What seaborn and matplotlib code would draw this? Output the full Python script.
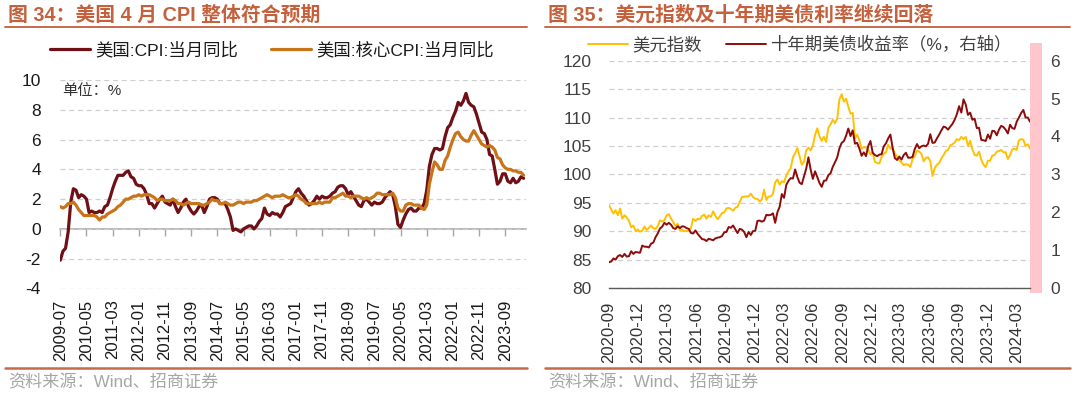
import numpy as np
import pandas as pd
import seaborn as sns
import matplotlib.pyplot as plt
import matplotlib.dates as mdates
from matplotlib.lines import Line2D

# ---- 图34: 美国CPI / 核心CPI 当月同比 (%), 月度 2009-07 ~ 2024-04
cpi_start = '2009-07-01'
cpi_yoy = [
    -2.1, -1.5, -1.3, -0.2, 1.8, 2.7,
    2.6, 2.1, 2.3, 2.2, 2.0, 1.1, 1.2, 1.1, 1.1, 1.2, 1.1, 1.5,
    1.6, 2.1, 2.7, 3.2, 3.6, 3.6, 3.6, 3.8, 3.9, 3.5, 3.4, 3.0,
    2.9, 2.9, 2.7, 2.3, 1.7, 1.7, 1.4, 1.7, 2.0, 2.2, 1.8, 1.7,
    1.6, 2.0, 1.5, 1.1, 1.4, 1.8, 2.0, 1.5, 1.2, 1.0, 1.2, 1.5,
    1.6, 1.1, 1.5, 2.0, 2.1, 2.1, 2.0, 1.7, 1.7, 1.7, 1.3, 0.8,
    -0.1, 0.0, -0.1, -0.2, 0.0, 0.1, 0.2, 0.2, 0.0, 0.2, 0.5, 0.7,
    1.4, 1.0, 0.9, 1.1, 1.0, 1.0, 0.8, 1.1, 1.5, 1.6, 1.7, 2.1,
    2.5, 2.7, 2.4, 2.2, 1.9, 1.6, 1.7, 1.9, 2.2, 2.0, 2.2, 2.1,
    2.1, 2.2, 2.4, 2.5, 2.8, 2.9, 2.9, 2.7, 2.3, 2.5, 2.2, 1.9,
    1.6, 1.5, 1.9, 2.0, 1.8, 1.6, 1.8, 1.7, 1.7, 1.8, 2.1, 2.3,
    2.5, 2.3, 1.5, 0.3, 0.1, 0.6, 1.0, 1.3, 1.4, 1.2, 1.2, 1.4,
    1.4, 1.7, 2.6, 4.2, 5.0, 5.4, 5.4, 5.3, 5.4, 6.2, 6.8, 7.0,
    7.5, 7.9, 8.5, 8.3, 8.6, 9.1, 8.5, 8.3, 8.2, 7.7, 7.1, 6.5,
    6.4, 6.0, 5.0, 4.9, 4.0, 3.0, 3.2, 3.7, 3.7, 3.2, 3.1, 3.4,
    3.1, 3.2, 3.5, 3.4,
]
core_cpi_yoy = [
    1.5, 1.4, 1.5, 1.7, 1.7, 1.8,
    1.6, 1.3, 1.1, 0.9, 0.9, 0.9, 0.9, 0.9, 0.8, 0.6, 0.8, 0.8,
    1.0, 1.1, 1.2, 1.3, 1.5, 1.6, 1.8, 2.0, 2.0, 2.1, 2.2, 2.2,
    2.3, 2.2, 2.3, 2.3, 2.3, 2.2, 2.1, 1.9, 2.0, 2.0, 1.9, 1.9,
    1.9, 2.0, 1.9, 1.7, 1.7, 1.6, 1.7, 1.8, 1.7, 1.7, 1.7, 1.7,
    1.6, 1.6, 1.7, 1.8, 2.0, 1.9, 1.9, 1.7, 1.7, 1.8, 1.7, 1.6,
    1.6, 1.7, 1.8, 1.8, 1.7, 1.8, 1.8, 1.8, 1.9, 1.9, 2.0, 2.1,
    2.2, 2.3, 2.2, 2.1, 2.2, 2.2, 2.2, 2.3, 2.2, 2.1, 2.1, 2.2,
    2.3, 2.2, 2.0, 1.9, 1.7, 1.7, 1.7, 1.7, 1.7, 1.8, 1.7, 1.8,
    1.8, 1.8, 2.1, 2.1, 2.2, 2.3, 2.4, 2.2, 2.2, 2.1, 2.2, 2.2,
    2.2, 2.1, 2.0, 2.1, 2.0, 2.1, 2.2, 2.4, 2.4, 2.3, 2.3, 2.3,
    2.3, 2.4, 2.1, 1.4, 1.2, 1.2, 1.6, 1.7, 1.7, 1.6, 1.6, 1.6,
    1.4, 1.3, 1.6, 3.0, 3.8, 4.5, 4.3, 4.0, 4.0, 4.6, 4.9, 5.5,
    6.0, 6.4, 6.5, 6.2, 6.0, 5.9, 5.9, 6.3, 6.6, 6.3, 6.0, 5.7,
    5.6, 5.5, 5.6, 5.5, 5.3, 4.8, 4.7, 4.3, 4.1, 4.0, 4.0, 3.9,
    3.9, 3.8, 3.8, 3.6,
]

# ---- 图35: 美元指数 / 十年期美债收益率 (%), 周度读数
fx_start, fx_end = '2020-09-01', '2024-04-11'
dxy = [
    94.6, 93.8, 93.1, 93.7, 92.8, 94.0, 92.2, 92.8, 92.4, 91.8, 90.7, 91.0, 90.0, 90.3,
    89.9, 90.1, 90.8, 90.2, 90.6, 91.0, 90.5, 90.4, 90.9, 91.9, 91.7, 91.9, 92.8, 93.0,
    92.2, 91.6, 90.9, 91.3, 90.2, 90.3, 90.0, 90.0, 90.1, 90.6, 92.2, 91.8, 92.2, 92.1,
    92.7, 92.9, 92.2, 92.8, 92.5, 93.5, 92.7, 92.1, 92.6, 93.2, 93.3, 94.0, 94.1, 93.9,
    93.6, 94.1, 94.3, 95.1, 96.0, 96.1, 96.1, 96.1, 96.6, 96.0, 95.7,
    95.7, 95.2, 95.6, 97.3, 95.5, 96.1, 96.1, 96.6, 98.6, 99.1, 98.2, 98.8, 98.6, 99.8,
    100.5, 101.1, 103.0, 103.7, 104.6, 103.2, 101.7, 102.2, 104.2, 104.7, 104.2, 105.1,
    106.9, 108.1, 106.7, 105.9, 106.6, 105.7, 108.2, 108.8, 109.6, 109.0, 109.8, 113.2,
    114.1, 112.8, 113.3, 111.9, 110.7, 110.8, 106.3, 107.0, 106.0, 104.5, 104.8, 104.7,
    104.3, 103.5,
    103.9, 102.2, 102.0, 101.9, 103.0, 103.6, 103.9, 105.2, 104.5, 104.6, 103.7, 103.1,
    102.5, 102.1, 101.6, 101.8, 101.7, 101.3, 102.7, 103.2, 104.2, 104.0, 103.6, 102.3,
    102.9, 103.0, 102.3, 99.7, 101.1, 101.7, 102.0, 102.8, 103.4, 104.1, 104.3, 105.1,
    105.3, 105.6, 106.2, 106.0, 106.6, 106.2, 106.6, 105.0, 105.9, 104.4, 103.4, 103.3,
    104.0, 102.6, 101.7, 101.3,
    102.4, 102.4, 103.3, 103.4, 104.0, 104.1, 104.3, 103.9, 103.9, 102.7, 103.4, 104.4,
    104.5, 104.3, 106.0, 106.2, 106.1, 105.0, 105.3, 104.5,
]
ust10y = [
    0.68, 0.70, 0.78, 0.75, 0.84, 0.87, 0.82, 0.90, 0.83, 0.84, 0.97, 0.90, 0.95, 0.94,
    0.93, 1.12, 1.09, 1.09, 1.07, 1.17, 1.20, 1.34, 1.44, 1.57, 1.62, 1.72, 1.67, 1.72,
    1.67, 1.58, 1.56, 1.63, 1.58, 1.63, 1.62, 1.58, 1.56, 1.45, 1.44, 1.52, 1.43, 1.36,
    1.29, 1.28, 1.24, 1.30, 1.28, 1.26, 1.31, 1.33, 1.34, 1.37, 1.47, 1.48, 1.61, 1.59,
    1.65, 1.55, 1.45, 1.56, 1.54, 1.48, 1.34, 1.48, 1.40, 1.50, 1.51,
    1.77, 1.78, 1.75, 1.78, 1.93, 1.92, 1.93, 1.97, 1.72, 2.00, 2.14, 2.48, 2.38, 2.72,
    2.83, 2.90, 2.89, 3.13, 2.93, 2.78, 2.74, 2.94, 3.15, 3.45, 3.13, 2.88, 3.08, 2.93,
    2.77, 2.67, 2.83, 2.84, 2.98, 3.03, 3.20, 3.32, 3.45, 3.69, 3.83, 3.88, 4.02, 4.21,
    4.01, 4.16, 3.81, 3.83, 3.68, 3.49, 3.58, 3.48, 3.75, 3.88,
    3.57, 3.51, 3.48, 3.52, 3.53, 3.74, 3.82, 3.95, 4.05, 3.70, 3.43, 3.38, 3.47, 3.39,
    3.51, 3.57, 3.44, 3.44, 3.46, 3.67, 3.80, 3.69, 3.74, 3.76, 3.74, 3.81, 4.06, 3.83,
    3.84, 3.95, 4.05, 4.16, 4.26, 4.24, 4.18, 4.26, 4.33, 4.44, 4.59, 4.80, 4.63, 4.98,
    4.84, 4.57, 4.63, 4.44, 4.47, 4.22, 4.23, 3.91, 3.90, 3.88,
    4.05, 3.94, 4.15, 4.14, 4.03, 4.18, 4.28, 4.25, 4.18, 4.08, 4.31, 4.22, 4.20, 4.39,
    4.50, 4.62, 4.70, 4.50, 4.50, 4.39,
]

rust = '#C8694A'
grid_kw = dict(color='#CFCFCF', linestyle=(0, (4, 3)), linewidth=0.9)

sns.set_style('white')
plt.rcParams['font.family'] = ['Liberation Sans', 'Noto Sans CJK SC']
plt.rcParams['axes.unicode_minus'] = False

W, H = 1080, 399
fig = plt.figure(figsize=(W / 100, H / 100), dpi=100)
ax1 = fig.add_axes([60.3 / W, 1 - 288.5 / H, 465.9 / W, 208.5 / H])
ax2 = fig.add_axes([609 / W, 1 - 288 / H, 421 / W, 227.3 / H])

# ---------------- left chart
months = pd.date_range(cpi_start, periods=len(cpi_yoy), freq='MS')
df1 = pd.DataFrame({'i': np.arange(len(months)), 'cpi': cpi_yoy, 'core': core_cpi_yoy})
sns.lineplot(data=df1, x='i', y='cpi', ax=ax1, color='#6E1015', lw=2.3,
             label='美国:CPI:当月同比', zorder=3)
sns.lineplot(data=df1, x='i', y='core', ax=ax1, color='#C8741A', lw=2.3,
             label='美国:核心CPI:当月同比', zorder=4)

ax1.set_xlim(0, len(months))
ax1.set_ylim(-4, 10)
ax1.set_yticks(range(-4, 11, 2))
ax1.yaxis.grid(True, **grid_kw)
ax1.set_axisbelow(True)
for s in ax1.spines.values():
    s.set_visible(False)
tick_idx = np.arange(0, len(months), 10)
ax1.set_xticks(tick_idx, months[tick_idx].strftime('%Y-%m'))
ax1.tick_params(axis='x', length=0, pad=8, labelsize=12, rotation=90, labelcolor='#1a1a1a')
ax1.tick_params(axis='y', length=0, pad=14, labelsize=12.5, labelcolor='#1a1a1a')
ax1.set_xlabel('')
ax1.set_ylabel('')

# zero line with tick marks
zero_ax = ax1.secondary_xaxis(0, transform=ax1.transData)
zero_ax.set_xticks(tick_idx)
zero_ax.tick_params(length=5, width=1, color='#A6A6A6', labelbottom=False)
zero_ax.spines['bottom'].set_color('#A6A6A6')
zero_ax.spines['bottom'].set_linewidth(1.1)

ax1.text(0.004, 0.947, '单位：%', transform=ax1.transAxes, fontsize=11,
         color='#333333', ha='left', va='center')

ax1.legend(loc='center left', bbox_to_anchor=(50 / W, 1 - 50 / H), bbox_transform=fig.transFigure,
           ncol=2, frameon=False, fontsize=12.5, handlelength=2.3, handletextpad=0.3,
           columnspacing=1.9, borderpad=0, borderaxespad=0, labelcolor='#1a1a1a')

# ---------------- right chart
fx_dates = pd.date_range(fx_start, fx_end, periods=len(dxy))
df2 = pd.DataFrame({'date': fx_dates, 'dxy': dxy, 'ust': ust10y})
sns.lineplot(data=df2, x='date', y='dxy', ax=ax2, color='#FFC000', lw=1.4, label='美元指数')
ax2r = ax2.twinx()
sns.lineplot(data=df2, x='date', y='ust', ax=ax2r, color='#8E0B0B', lw=1.4,
             label='十年期美债收益率（%，右轴）')

ax2.set_xlim(fx_dates[0], fx_dates[-1])
ax2.set_ylim(80, 120)
ax2.set_yticks(range(80, 121, 5))
ax2r.set_ylim(0, 6)
ax2r.set_yticks(range(0, 7))
ax2.yaxis.grid(True, **grid_kw)
ax2.set_axisbelow(True)
for s in list(ax2.spines.values()) + list(ax2r.spines.values()):
    s.set_visible(False)
ax2.spines['bottom'].set_visible(True)
ax2.spines['bottom'].set_color('#595959')
ax2.spines['bottom'].set_linewidth(1)

ax2.xaxis.set_major_locator(mdates.MonthLocator(bymonth=[3, 6, 9, 12]))
ax2.xaxis.set_major_formatter(mdates.DateFormatter('%Y-%m'))
ax2.tick_params(axis='x', length=5, width=1, color='#595959', pad=5, labelsize=12,
                rotation=90, labelcolor='#333333')
ax2.tick_params(axis='y', length=0, pad=12.5, labelsize=12.5, labelcolor='#404040')
ax2r.tick_params(axis='y', length=0, pad=14.5, labelsize=12.5, labelcolor='#404040')
for a in (ax2, ax2r):
    a.set_xlabel('')
    a.set_ylabel('')

# highlighted latest period
ax2.axvspan(pd.Timestamp('2024-04-11'), pd.Timestamp('2024-05-20'), ymin=-0.02, ymax=1.077,
            color='#FFC7CB', lw=0, clip_on=False, zorder=0)

h1, l1 = ax2.get_legend_handles_labels()
h2, l2 = ax2r.get_legend_handles_labels()
ax2.get_legend().remove()
ax2r.legend(h1 + h2, l1 + l2, loc='center left', bbox_to_anchor=(588 / W, 1 - 45 / H),
            bbox_transform=fig.transFigure, ncol=2, frameon=False, fontsize=12.5,
            handlelength=2.3, handletextpad=0.25, columnspacing=1.4, borderpad=0,
            borderaxespad=0, labelcolor='#404040')

# ---------------- titles, rules, sources
fig.text(7.6 / W, 1 - 15 / H, '图 34：美国 4 月 CPI 整体符合预期', fontsize=14.3,
         fontweight='bold', color='#C5603D', ha='left', va='center')
fig.text(547.6 / W, 1 - 15 / H, '图 35：美元指数及十年期美债利率继续回落', fontsize=14.3,
         fontweight='bold', color='#C5603D', ha='left', va='center')
for x0, x1 in [(5, 527), (545, 1070)]:
    fig.add_artist(Line2D([x0 / W, x1 / W], [1 - 27 / H] * 2, color=rust, lw=1.4))
    fig.add_artist(Line2D([x0 / W, x1 / W], [1 - 368.3 / H] * 2, color=rust, lw=1.8))
for x0 in (8.6, 548):
    fig.text(x0 / W, 1 - 382 / H, '资料来源：Wind、招商证券', fontsize=12.3,
             color='#A6A6A6', ha='left', va='center')

fig.savefig('out.png', dpi=100)
